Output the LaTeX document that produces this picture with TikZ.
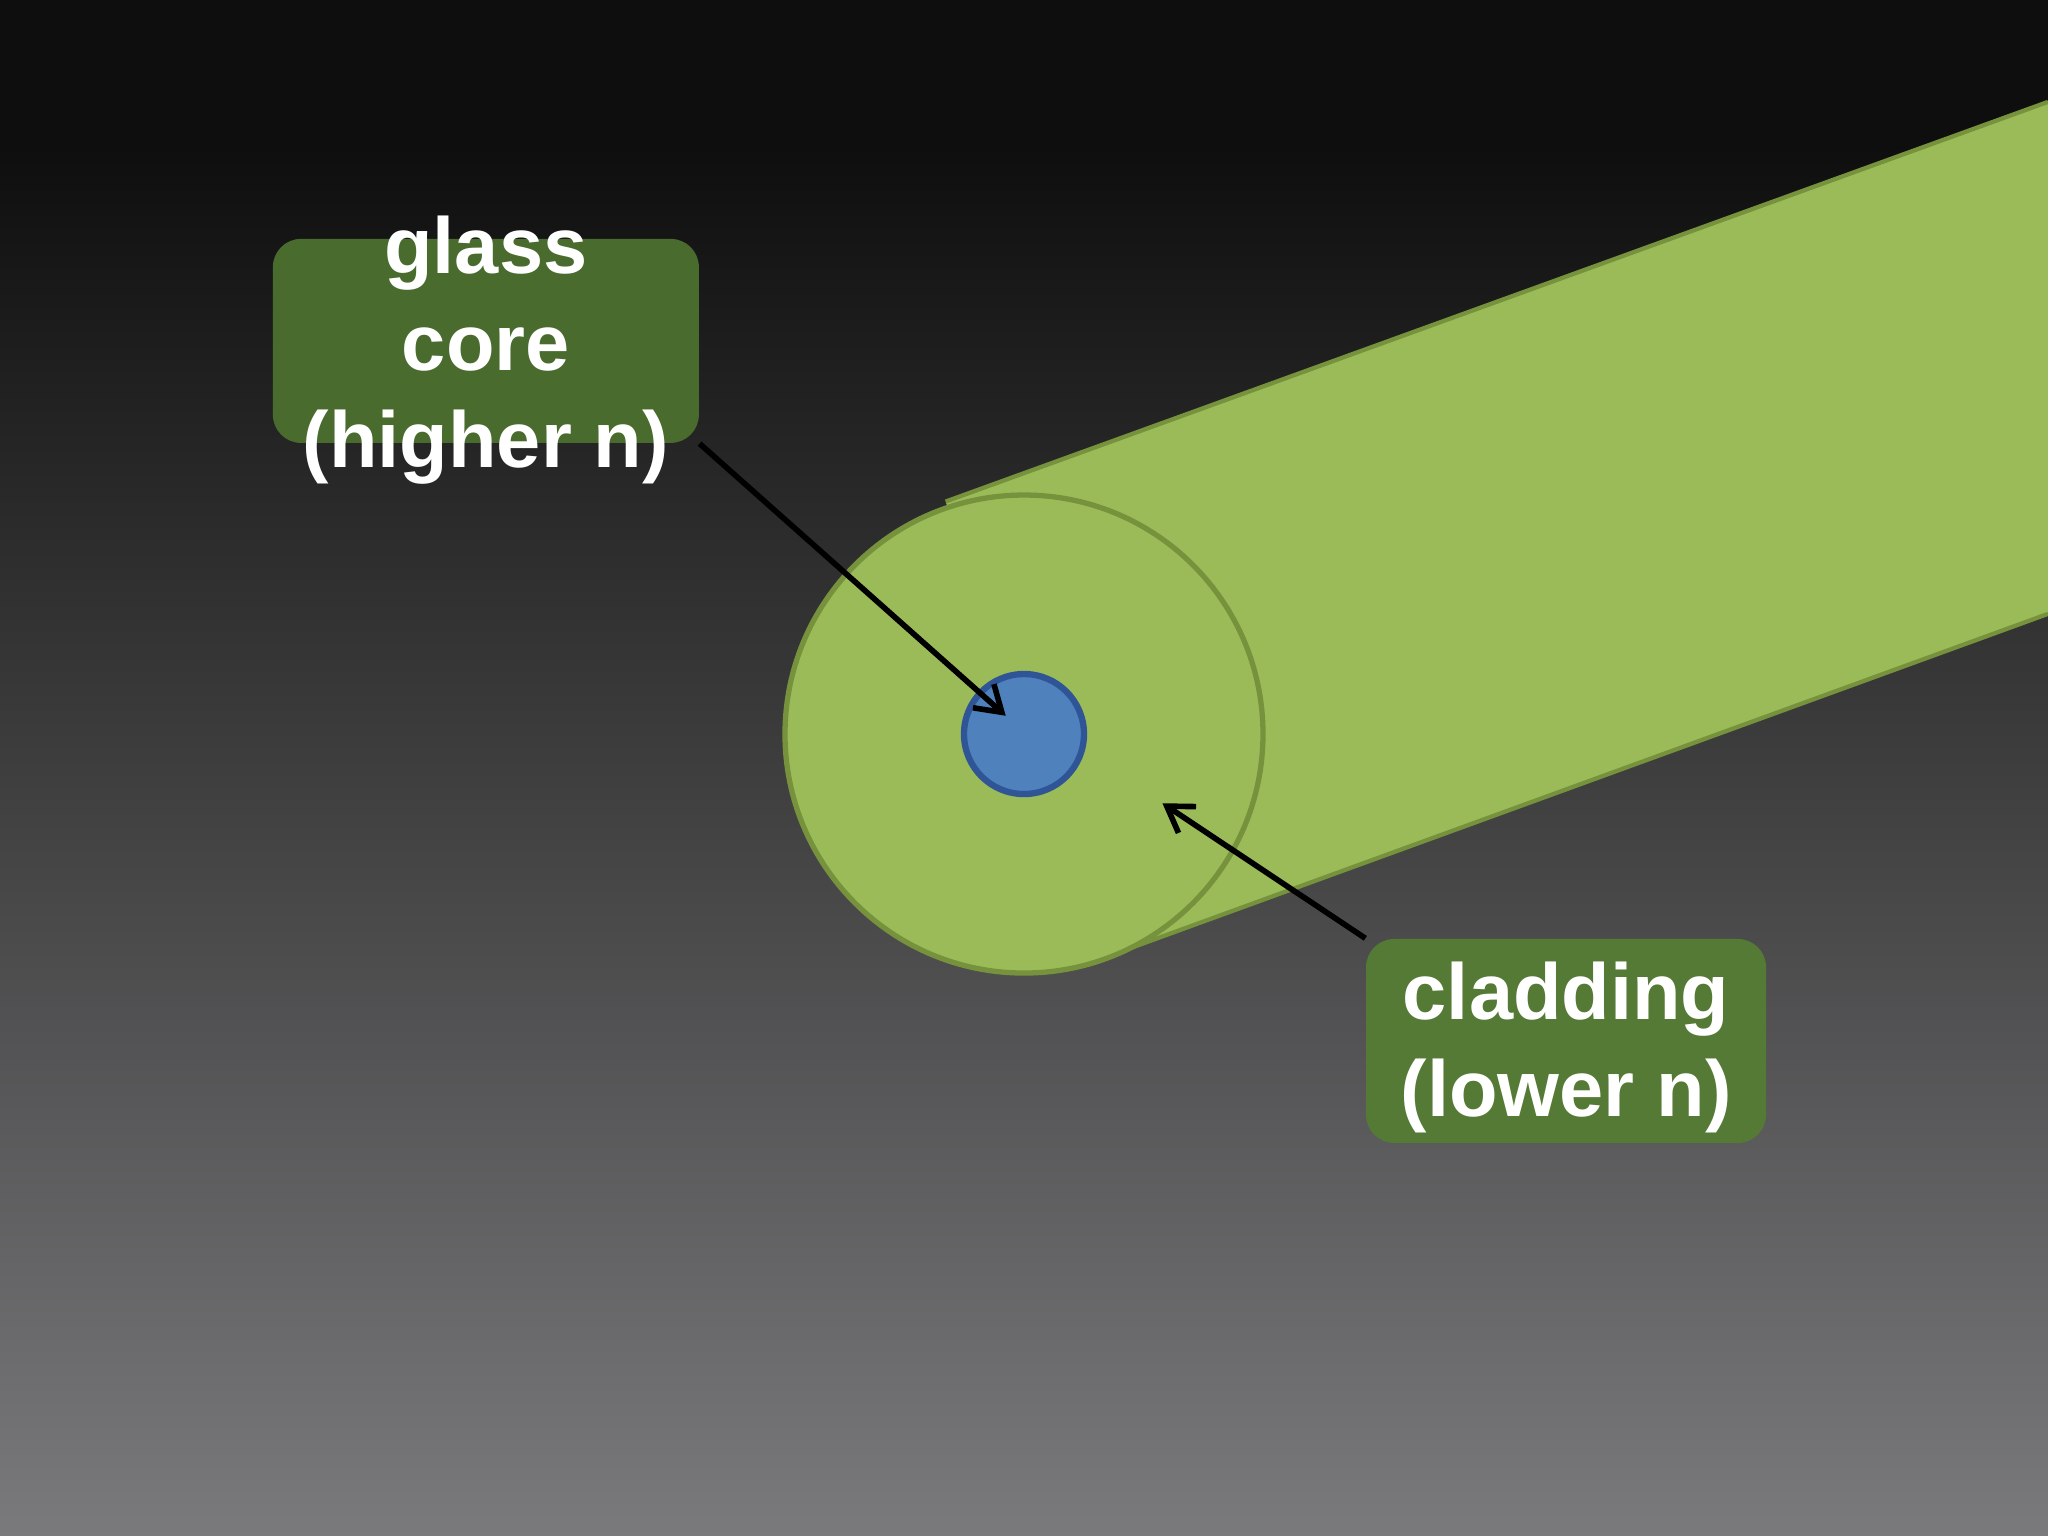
\documentclass[tikz,border=0pt]{standalone}
\usepackage{fontspec}
\setmainfont{Liberation Sans}
\usetikzlibrary{arrows.meta}
\definecolor{bgtop}{HTML}{0E0E0E}
\definecolor{bgbot}{HTML}{7A797B}
\definecolor{clad}{HTML}{9BBB59}
\definecolor{cladline}{HTML}{76923C}
\definecolor{corefill}{HTML}{4F81BD}
\definecolor{coreline}{HTML}{2F5597}
\definecolor{boxfill}{HTML}{4A6B2E}
\definecolor{boxfilltwo}{HTML}{547A35}
\begin{document}
\begin{tikzpicture}[x=0.013061cm,y=-0.013061cm,
  lbox/.style={draw=none,rounded corners=8pt,inner sep=0pt},
  ltext/.style={text=white,font=\fontsize{22.6}{27.5}\selectfont\bfseries,align=center},
  ptr/.style={draw=black,line width=1.6pt,-{Straight Barb[length=7pt,width=9pt]}}]
\useasboundingbox (0,0) rectangle (1568,1176);
\fill[bgtop] (0,0) rectangle (1568,120);
\shade[top color=bgtop,bottom color=bgbot] (0,110) rectangle (1568,1176);
% cylinder body
\fill[clad] (724,384) -- (1568,78) -- (1568,470) -- (846,733) -- cycle;
\draw[cladline,line width=1.2pt] (724,384) -- (1568,78);
\draw[cladline,line width=1.2pt] (846,733) -- (1568,470);
\node[circle,fill=clad,draw=cladline,line width=1.5pt,inner sep=0pt,minimum size=4.78cm] (end) at (784,562) {};
\node[circle,fill=corefill,draw=coreline,line width=1.8pt,inner sep=0pt,minimum size=1.2cm] (core) at (784,562) {};
% boxes
\node[lbox,fill=boxfill,minimum width=4.26cm,minimum height=2.04cm] (box1) at (372,261) {};
\node[ltext] (t1) at (372,268) {glass\\core\\(higher n)};
\node[lbox,fill=boxfilltwo,minimum width=4.0cm,minimum height=2.04cm] (box2) at (1199,797) {};
\node[ltext] (t2) at (1199,802) {cladding\\(lower n)};
\coordinate (a1) at (770,548);
\coordinate (a2) at (890,615);
\draw[ptr] (box1.south east) -- (a1);
\draw[ptr] (box2.north west) -- (a2);
\end{tikzpicture}
\end{document}
